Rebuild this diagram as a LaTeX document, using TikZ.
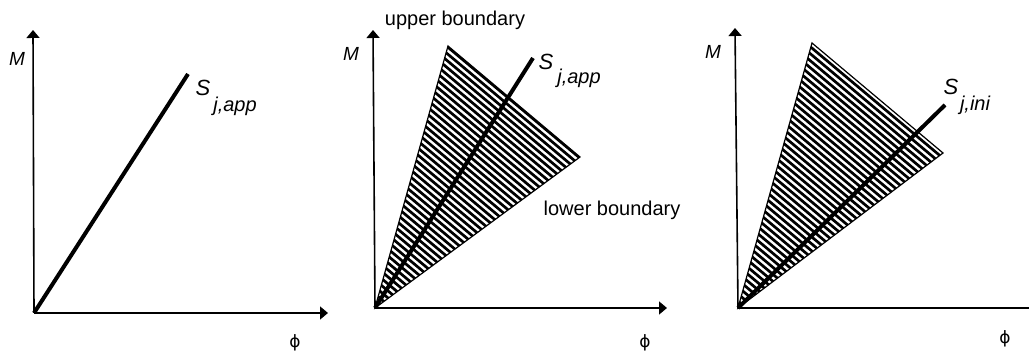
\documentclass[tikz,border=0pt]{standalone}
\usepackage{fontspec}
\setmainfont{Liberation Sans}
\newfontfamily\phifont{DejaVu Sans}
\usetikzlibrary{arrows.meta,calc}
\begin{document}
\begin{tikzpicture}[x=0.5pt,y=-0.5pt,
  axis/.style={line width=0.8pt,-{Triangle[length=4pt,width=6.5pt]}},
  sline/.style={line width=2pt},
  hatchline/.style={line width=1.35pt},
  edge/.style={line width=0.6pt},
  lbl/.style={inner sep=0pt,font=\fontsize{10}{12}\selectfont},
  mlbl/.style={inner sep=0pt,font=\fontsize{9.5}{11}\selectfont\itshape},
  slbl/.style={inner sep=0pt,font=\fontsize{11}{13}\selectfont\itshape},
  sublbl/.style={inner sep=0pt,font=\fontsize{10}{12}\selectfont\itshape},
  philbl/.style={inner sep=0pt,font=\fontsize{8.5}{10}\selectfont\phifont}]
\useasboundingbox (0,0) rectangle (1029,351);
% ---------- panel 1 ----------
\coordinate (O1) at (34,313);
\coordinate (Y1) at (33,30);
\coordinate (X1) at (328,313);
\coordinate (S1) at (188,74);
\draw[axis] (O1) -- (Y1);
\draw[axis] (O1) -- (X1);
\draw[sline] (O1) -- (S1);
\node[mlbl] (m1) at (17,59) {M};
\node[slbl] (s1) at (203,88) {S};
\node[sublbl] (s1sub) at (235,106) {j,app};
\node[philbl] (p1) at (295,343) {ϕ};
% ---------- panel 2 ----------
\coordinate (O2) at (375,308);
\coordinate (Y2) at (373,30);
\coordinate (X2) at (667,308);
\coordinate (T2) at (448,46);
\coordinate (R2) at (580,157);
\coordinate (S2) at (533,58);
\begin{scope}
  \clip (O2) -- (T2) -- (R2) -- cycle;
  \foreach \k in {-47,...,2}
    \draw[hatchline] ($(O2)+(-300,\k*7-252)$) -- ++(600,504);
\end{scope}
\draw[edge] (O2) -- (T2) -- (R2) -- cycle;
\draw[axis] (O2) -- (Y2);
\draw[axis] (O2) -- (X2);
\draw[sline] (O2) -- (S2);
\node[mlbl] (m2) at (351,54) {M};
\node[slbl] (s2) at (546,62) {S};
\node[sublbl] (s2sub) at (579,78) {j,app};
\node[lbl] (ub) at (455,20) {upper boundary};
\node[lbl] (lb) at (612,210) {lower boundary};
\node[philbl] (p2) at (645,343) {ϕ};
% ---------- panel 3 ----------
\coordinate (O3) at (738,308);
\coordinate (Y3) at (735,28);
\coordinate (X3) at (1029,308);
\coordinate (T3) at (812,43);
\coordinate (R3) at (943,153);
\coordinate (S3) at (945,105);
\begin{scope}
  \clip (O3) -- (T3) -- (R3) -- cycle;
  \foreach \k in {-48,...,2}
    \draw[hatchline] ($(O3)+(-300,\k*7-252)$) -- ++(600,504);
\end{scope}
\draw[edge] (O3) -- (T3) -- (R3) -- cycle;
\draw[axis] (O3) -- (Y3);
\draw[line width=0.8pt] (O3) -- (X3);
\draw[sline] (O3) -- (S3);
\node[mlbl] (m3) at (713,52) {M};
\node[slbl] (s3) at (951,87) {S};
\node[sublbl] (s3sub) at (975,105) {j,ini};
\node[philbl] (p3) at (1005,339) {ϕ};
\end{tikzpicture}
\end{document}
